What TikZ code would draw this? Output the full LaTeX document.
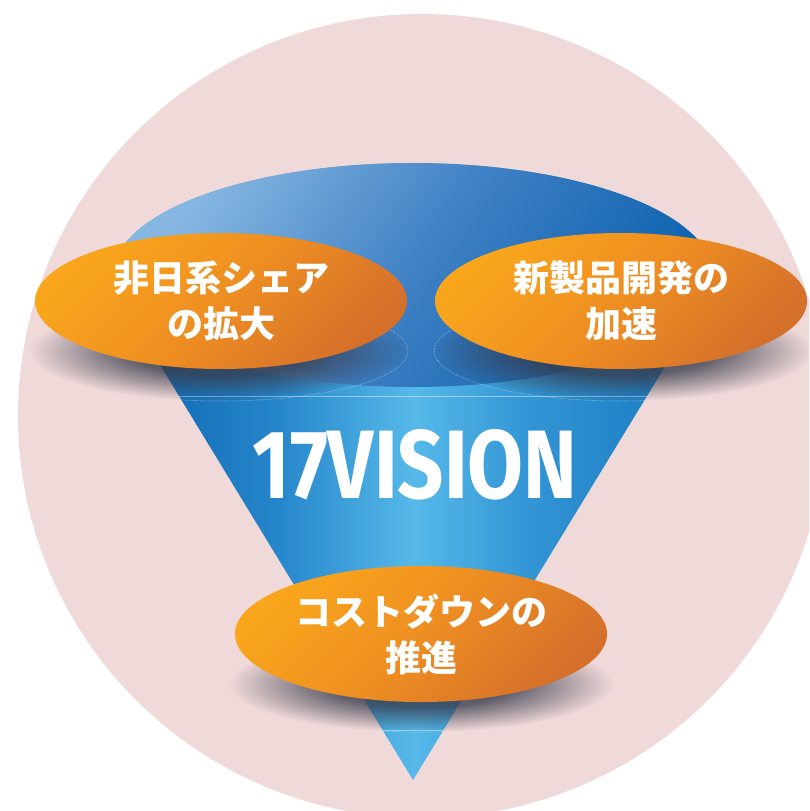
\documentclass[tikz,border=0pt]{standalone}
\usepackage{fontspec}
\usetikzlibrary{shapes.geometric,fadings}
\newfontfamily\cjk{Noto Sans CJK JP}
\newfontfamily\visfont{Fira Sans}
\definecolor{bgpink}{HTML}{F0D9D9}
\definecolor{orA}{HTML}{F9A61C}
\definecolor{orB}{HTML}{EE8E22}
\definecolor{orC}{HTML}{D5702B}
\definecolor{rimA}{HTML}{86B7E2}
\definecolor{rimB}{HTML}{3F80C4}
\definecolor{rimC}{HTML}{0C62AE}
\definecolor{cnA}{HTML}{0B63AE}
\definecolor{cnB}{HTML}{2585CA}
\definecolor{cnC}{HTML}{56B9E9}
\definecolor{cnD}{HTML}{3395D4}
\definecolor{cnE}{HTML}{0E71BB}
\definecolor{shadowc}{HTML}{383C4C}
\pgfdeclarehorizontalshading{conesh}{100bp}{color(0bp)=(cnA); color(25bp)=(cnA); color(38bp)=(cnB); color(49bp)=(cnC); color(58bp)=(cnD); color(75bp)=(cnE); color(100bp)=(cnE)}
\pgfdeclareradialshading{shfadesh}{\pgfpointorigin}{color(0bp)=(black!10); color(12bp)=(black!22); color(25bp)=(black!100); color(50bp)=(black!100)}
\pgfdeclarefading{shfade}{\pgfuseshading{shfadesh}}
\tikzset{
  goal/.style={ellipse, minimum width=372pt, minimum height=136pt, inner sep=0pt,
    top color=orA, bottom color=orC, middle color=orB, shading angle=45,
    text=white, font=\cjk\bfseries\fontsize{36}{46}\selectfont, align=center},
  dropshadow/.style={fill=shadowc, path fading=shfade, fit fading=true},
  ghost/.style={white, opacity=.55, line width=.6pt, densely dotted},
  glint/.style={white, opacity=.45, line width=.8pt}
}
\begin{document}
\begin{tikzpicture}[x=1pt,y=-1pt]
\useasboundingbox (0,0) rectangle (809,811);
\clip (0,0) rectangle (809,811);
% background disc
\fill[bgpink] (422,416) ellipse [x radius=404, y radius=402];
% cone body
\shade[shading=conesh] (120.5,300) -- (413,780) -- (705.5,300)
  arc[start angle=12.8, end angle=-192.8, x radius=300, y radius=112] -- cycle;
% top face of the cone
\shade[top color=rimA, bottom color=rimC, middle color=rimB, shading angle=55]
  (413,275) ellipse [x radius=300, y radius=112];
% glints
\draw[glint] (179,396) -- (647,396);
\draw[glint] (382.5,730) -- (443.5,730);
% shadows
\fill[dropshadow] (221,351) ellipse [x radius=192, y radius=50];
\fill[dropshadow] (621,351) ellipse [x radius=192, y radius=50];
\fill[dropshadow] (421,684) ellipse [x radius=192, y radius=48];
\begin{scope}
  \clip (120.5,300) -- (413,780) -- (705.5,300)
    arc[start angle=12.8, end angle=-192.8, x radius=300, y radius=112] -- cycle;
  \draw[ghost] (221,351) ellipse [x radius=187, y radius=50];
  \draw[ghost] (621,351) ellipse [x radius=187, y radius=50];
  \draw[ghost] (421,684) ellipse [x radius=187, y radius=48];
\end{scope}
% goal ellipses
\node[goal] (share) at (221,301) {非日系シェア\\の拡大};
\node[goal] (newprod) at (621,301) {新製品開発の\\加速};
\node[goal] (cost) at (421,634) {コストダウンの\\推進};
% title
\node[text=white, inner sep=0pt] (vision) at (415,465)
  {\resizebox{325pt}{69pt}{\visfont\bfseries 17VISION}};
\end{tikzpicture}
\end{document}
